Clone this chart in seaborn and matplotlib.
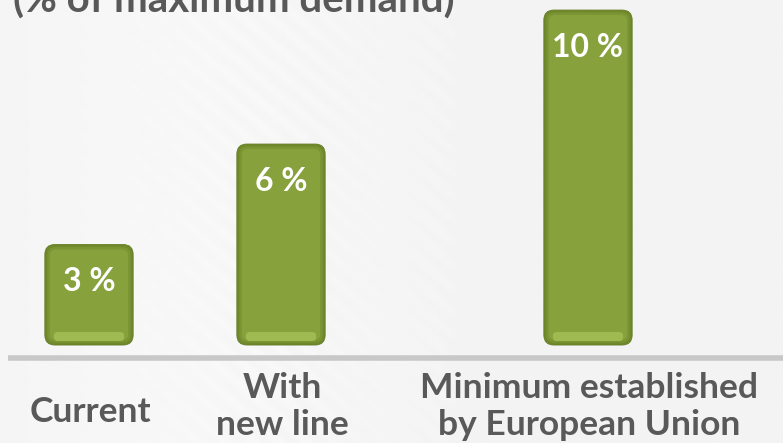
import matplotlib
matplotlib.use("Agg")
import matplotlib.pyplot as plt
import seaborn as sns
import numpy as np
import pandas as pd
from matplotlib.patches import FancyBboxPatch

# ---- data ----
categories = ["Current", "With\nnew line", "Minimum established\nby European Union"]
values = [3, 6, 10]
value_labels = ["3 %", "6 %", "10 %"]
title = "(% of maximum demand)"

# ---- layout (not data) ----
bar_pos = [89, 281, 588]
W, H = 783, 443
DPI = 100

sns.set_theme(style="white")
plt.rcParams["font.family"] = ["Lato", "DejaVu Sans"]

fig = plt.figure(figsize=(W / DPI, H / DPI), dpi=DPI)
fig.patch.set_facecolor("#f4f4f4")
ax = fig.add_axes([0, 0, 1, 1])
ax.set_facecolor("#f4f4f4")

# subtle diagonal streak background
xs = np.linspace(0, 1, 400)
ys = np.linspace(0, 1, 230)
X, Y = np.meshgrid(xs, ys)
bg = 0.955 + 0.015 * np.exp(-((X - 0.25) ** 2) / 0.05) + 0.006 * np.sin((X * 3 + Y * 2) * 60) * np.exp(-((X - 0.35) ** 2) / 0.02)
ax.imshow(bg, extent=[0, W, -2.925, 10.3], cmap="gray", vmin=0, vmax=1,
          aspect="auto", zorder=0, origin="lower")

df = pd.DataFrame({"pos": bar_pos, "value": values})
sns.barplot(data=df, x="pos", y="value", native_scale=True, width=0.46,
            color="#86a03c", ax=ax, zorder=2)

ax.set_xlim(0, W)
ax.set_ylim(-2.925, 10.3)
ax.axis("off")

px_per_unit = 33.5


def ypix(p):
    """pixel row from top -> data y"""
    return (H - 98 - p) / px_per_unit


# replace bars by rounded, shaded boxes
for p, lab in zip(list(ax.patches), value_labels):
    x0, y0 = p.get_x(), p.get_y()
    w, h = p.get_width(), p.get_height()
    p.set_visible(False)
    r = 10
    outer = FancyBboxPatch((x0, y0), w, h,
                           boxstyle=f"round,pad=0,rounding_size={r}",
                           mutation_aspect=1 / px_per_unit,
                           facecolor="#6f892b", edgecolor="#637c24", lw=0.6, zorder=3)
    ax.add_patch(outer)
    mid = FancyBboxPatch((x0 + 2.5, y0 + 2.5 / px_per_unit), w - 5, h - 5 / px_per_unit,
                         boxstyle=f"round,pad=0,rounding_size={r - 2}",
                         mutation_aspect=1 / px_per_unit,
                         facecolor="#7b9534", edgecolor="none", zorder=4)
    ax.add_patch(mid)
    inner = FancyBboxPatch((x0 + 5, y0 + 5 / px_per_unit), w - 10, h - 10 / px_per_unit,
                           boxstyle=f"round,pad=0,rounding_size={r - 4}",
                           mutation_aspect=1 / px_per_unit,
                           facecolor="#87a13d", edgecolor="none", zorder=4)
    ax.add_patch(inner)
    # bottom highlight band
    hl = FancyBboxPatch((x0 + 9, y0 + 4 / px_per_unit), w - 18, 9 / px_per_unit,
                        boxstyle=f"round,pad=0,rounding_size=4",
                        mutation_aspect=1 / px_per_unit,
                        facecolor="#9fba50", edgecolor="none", zorder=5)
    ax.add_patch(hl)
    # label
    ax.text(x0 + w / 2, y0 + h - 37 / px_per_unit, lab, ha="center", va="center",
            color="white", fontsize=23, fontweight="bold", zorder=6)

# baseline
ax.plot([8, W], [ypix(358), ypix(358)], color="#c8c8c8",
        lw=4, solid_capstyle="butt", zorder=2)

# category labels (last-line baseline positioning)
for xp, cat in zip(bar_pos, categories):
    nl = cat.count("\n")
    base = 422 if nl == 0 else 435
    ax.text(xp + 1, ypix(base), cat, ha="center", va="baseline", color="#595959",
            fontsize=25.5, fontweight="bold", linespacing=1.18, zorder=6)

# title (partially cut off at top, as in the reference)
fig.text(13 / W, 1 - 12.5 / H, title, ha="left", va="baseline", color="#595959",
         fontsize=29, fontweight="bold")

fig.savefig("out.png", dpi=DPI, facecolor=fig.get_facecolor())
